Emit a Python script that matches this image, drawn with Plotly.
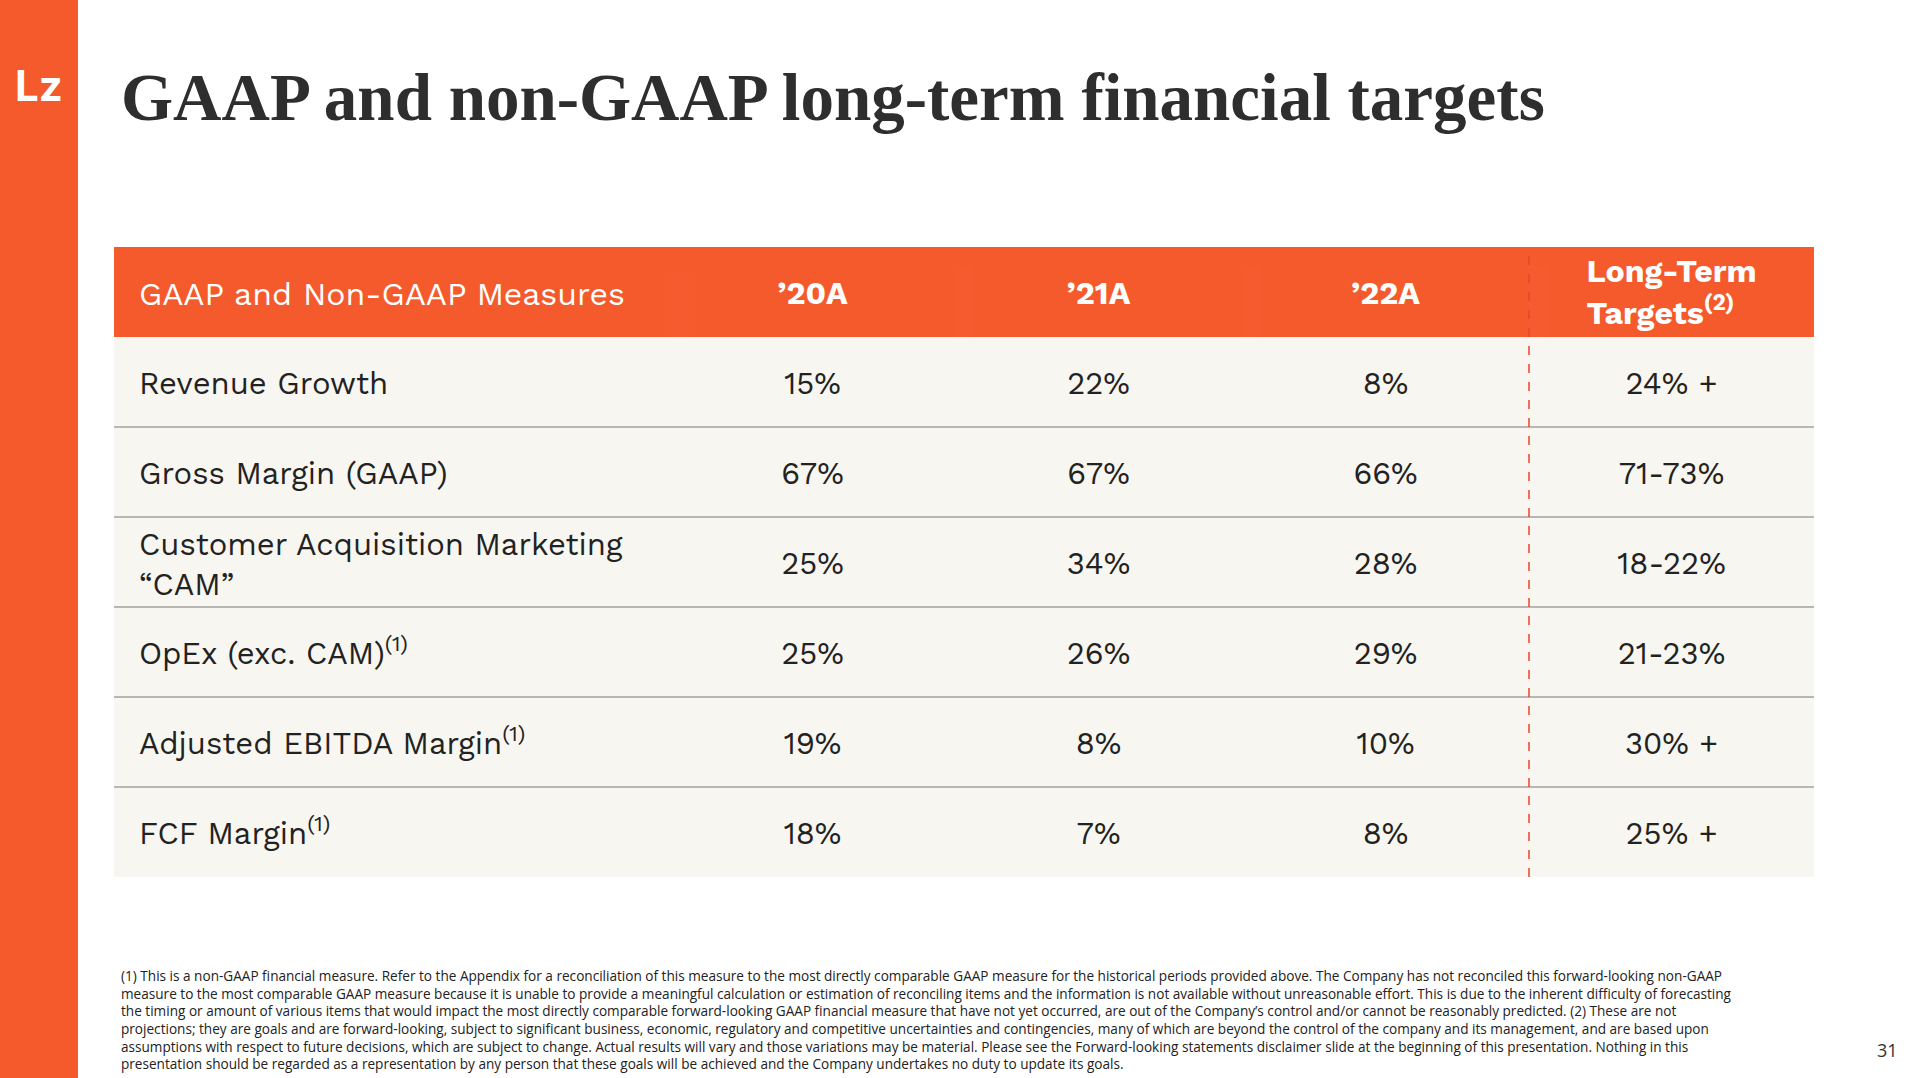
import plotly.graph_objects as go

W, H = 1920, 1078
ORANGE = "#F55A2C"
CREAM = "#F8F6F0"
FONT = "Work Sans, Open Sans"

header = ["GAAP and Non-GAAP Measures", "<b>’20A</b>", "<b>’21A</b>", "<b>’22A</b>",
          "<b>Long-Term<br>Targets<sup>(2)</sup></b>"]
measures = ["Revenue Growth", "Gross Margin (GAAP)", "Customer Acquisition Marketing<br>“CAM”",
            "OpEx (exc. CAM)<sup>(1)</sup>", "Adjusted EBITDA Margin<sup>(1)</sup>", "FCF Margin<sup>(1)</sup>"]
y20 = ["15%", "67%", "25%", "25%", "19%", "18%"]
y21 = ["22%", "67%", "34%", "26%", "8%", "7%"]
y22 = ["8%", "66%", "28%", "29%", "10%", "8%"]
targets = ["24% +", "71-73%", "18-22%", "21-23%", "30% +", "25% +"]

footnote = ("(1) This is a non-GAAP financial measure. Refer to the Appendix for a reconciliation of this measure to the most directly comparable GAAP measure for the historical periods provided above. The Company has not reconciled this forward-looking non-GAAP<br>"
            "measure to the most comparable GAAP measure because it is unable to provide a meaningful calculation or estimation of reconciling items and the information is not available without unreasonable effort. This is due to the inherent difficulty of forecasting<br>"
            "the timing or amount of various items that would impact the most directly comparable forward-looking GAAP financial measure that have not yet occurred, are out of the Company’s control and/or cannot be reasonably predicted. (2) These are not<br>"
            "projections; they are goals and are forward-looking, subject to significant business, economic, regulatory and competitive uncertainties and contingencies, many of which are beyond the control of the company and its management, and are based upon<br>"
            "assumptions with respect to future decisions, which are subject to change. Actual results will vary and those variations may be material. Please see the Forward-looking statements disclaimer slide at the beginning of this presentation. Nothing in this<br>"
            "presentation should be regarded as a representation by any person that these goals will be achieved and the Company undertakes no duty to update its goals.")

# table geometry in pixels
x0, x1 = 114, 1814
top = 247
row_h = 90
colw = [557, 284, 287, 287, 285]
edges = [x0]
for w in colw:
    edges.append(edges[-1] + w)
pad_left = 17


def shift_for(txt):
    # plotly tables put text at the top of a cell; push text down to centre it
    if "<br>" in txt:
        return -3 if "<sup>" in txt else 1
    if "<sup>" in txt:
        return 16
    if "<b>" in txt:
        return 19
    return 26


def row_table(vals, xa, xb, ytop, align, size, color):
    return go.Table(
        domain=dict(x=[xa / W, xb / W], y=[1 - (ytop + row_h) / H, 1 - ytop / H]),
        header=dict(values=vals, height=row_h, align=align, fill_color="rgba(0,0,0,0)",
                    line=dict(color="rgba(0,0,0,0)", width=0),
                    font=dict(family=FONT, size=size, color=color)),
    )


traces = []
rows = [header] + [list(r) for r in zip(measures, y20, y21, y22, targets)]
for i, row in enumerate(rows):
    ytop = top + i * row_h
    size = 32 if i == 0 else 31
    color = "white" if i == 0 else "#222222"
    traces.append(row_table([row[0]], edges[0] + pad_left, edges[1], ytop + shift_for(row[0]),
                            "left", size, color))
    for j in range(1, 5):
        traces.append(row_table([row[j]], edges[j], edges[j + 1], ytop + shift_for(row[j]),
                                "center", size, color))

fig = go.Figure(traces)

n = len(measures)
shapes = [
    dict(type="rect", x0=0, x1=78 / W, y0=0, y1=1, fillcolor=ORANGE, line_width=0, layer="below"),
    dict(type="rect", x0=x0 / W, x1=x1 / W, y0=1 - (top + row_h) / H, y1=1 - top / H,
         fillcolor=ORANGE, line_width=0, layer="below"),
    dict(type="rect", x0=x0 / W, x1=x1 / W, y0=1 - (top + (n + 1) * row_h) / H, y1=1 - (top + row_h) / H,
         fillcolor=CREAM, line_width=0, layer="below"),
]
for i in range(1, n):
    yy = 1 - (top + (i + 1) * row_h) / H
    shapes.append(dict(type="line", x0=x0 / W, x1=x1 / W, y0=yy, y1=yy,
                       line=dict(color="#777777", width=1), layer="below"))
xd = edges[4] / W
shapes.append(dict(type="line", x0=xd, x1=xd, y0=1 - (top + (n + 1) * row_h) / H, y1=1 - top / H,
                   line=dict(color="#E8442A", width=1.5, dash="dash"), layer="below"))
for s in shapes:
    s.update(xref="paper", yref="paper")

annotations = [
    dict(text="<b>GAAP and non-GAAP long-term financial targets</b>", x=119 / W, y=1 - 97 / H,
         xanchor="left", yanchor="middle", showarrow=False,
         font=dict(family="Liberation Serif, DejaVu Serif", size=67, color="#2E2E2E")),
    dict(text="<b>Lz</b>", x=39 / W, y=1 - 86 / H, xanchor="center", yanchor="middle", showarrow=False,
         font=dict(family="Inter", size=42, color="white")),
    dict(text=footnote, x=119 / W, y=1 - 964 / H, xanchor="left", yanchor="top", align="left",
         showarrow=False, font=dict(family="Open Sans", size=13.6, color="#222222")),
    dict(text="31", x=1900 / W, y=1 - 1050 / H, xanchor="right", yanchor="middle", showarrow=False,
         font=dict(family="Open Sans", size=18, color="#333333")),
]
for a in annotations:
    a.update(xref="paper", yref="paper")

fig.update_layout(width=W, height=H, margin=dict(l=0, r=0, t=0, b=0), paper_bgcolor="white",
                  shapes=shapes, annotations=annotations)
fig.write_html("out.html", config={"displayModeBar": False},
               post_script="document.body.style.margin='0';")
